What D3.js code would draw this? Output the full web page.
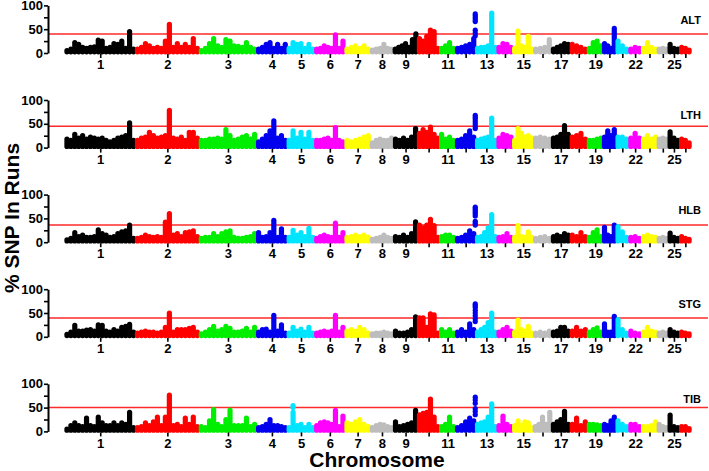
<!DOCTYPE html>
<meta charset="utf-8">
<style>
body { margin: 0; background: #fff; }
text { font-family: "Liberation Sans", Arial, sans-serif; font-weight: bold; }
</style>
<svg width="709" height="471"></svg>
<script src="https://d3js.org/d3.v7.min.js"></script>
<script>

// chromosome sizes (Mb) and the labels printed under the ticks
var chrLengths = [275, 249, 224, 119, 108, 117, 100, 90, 94, 86, 62, 79, 83, 62, 80, 71, 72, 68, 60, 51, 50, 50, 62, 42, 45, 44];
var tickLabels = ["1","2","3","4","5","6","7","8","9","","11","","13","","15","","17","","19","","","22","","","25",""];
var chrColours = ["#000000", "#ff0000", "#00ee00", "#0000ee", "#00e5ff", "#ff00ff", "#ffff00", "#bdbdbd"];

var traits = ["ALT", "LTH", "HLB", "STG", "TIB"];
var thresholds = [40, 45, 36, 39.7, 50];

// % SNP in runs along each chromosome (one list per chromosome)
var altValues = [
  [5, 8, 22, 18, 12, 10, 12, 13, 27, 25, 10, 12, 20, 18, 25, 10, 45, 8],
  [8, 12, 20, 15, 10, 12, 10, 25, 60, 12, 20, 12, 18, 12, 30, 10],
  [5, 10, 20, 30, 15, 12, 28, 25, 15, 14, 12, 22, 12, 8],
  [8, 12, 18, 22, 10, 18, 10, 18],
  [10, 22, 18, 20, 10, 18, 8],
  [8, 10, 15, 12, 10, 38, 10, 25],
  [8, 12, 15, 10, 15, 8],
  [6, 8, 10, 18, 10, 8],
  [8, 12, 15, 20, 12, 28, 40],
  [30, 25, 35, 48, 45, 10],
  [10, 15, 22, 10],
  [10, 12, 15, 18, 30],
  [10, 12, 12, 15, 84, 12],
  [12, 20, 18, 12],
  [10, 46, 15, 12, 35, 8],
  [8, 10, 12, 28],
  [8, 12, 15, 20, 18],
  [18, 15, 12, 8],
  [10, 22, 25, 15],
  [20, 15, 10, 52],
  [25, 15, 8],
  [8, 12, 10],
  [10, 22, 12, 8],
  [8, 10, 8],
  [18, 10, 8],
  [12, 10, 6]
];
var lthValues = [
  [18, 15, 28, 20, 25, 18, 22, 20, 18, 20, 15, 12, 15, 20, 22, 25, 52, 15],
  [15, 20, 22, 32, 25, 20, 22, 25, 78, 20, 18, 22, 15, 32, 32, 20],
  [15, 15, 18, 18, 20, 18, 38, 25, 15, 18, 22, 25, 18, 28],
  [12, 18, 25, 35, 56, 20, 25, 15],
  [15, 35, 20, 32, 18, 32, 15],
  [15, 15, 18, 20, 15, 42, 15, 12],
  [15, 12, 15, 18, 22, 25],
  [10, 15, 18, 15, 15, 20],
  [18, 15, 20, 15, 22, 40],
  [30, 38, 32, 43, 28, 20],
  [28, 18, 22, 15],
  [15, 18, 25, 35, 22],
  [15, 18, 20, 22, 62, 15],
  [20, 28, 25, 22],
  [15, 40, 30, 22, 25, 20],
  [20, 22, 20, 18],
  [20, 22, 28, 46, 28],
  [22, 25, 30, 18],
  [15, 15, 18, 20],
  [22, 35, 25, 38],
  [22, 22, 18],
  [20, 30, 20],
  [18, 25, 18, 22],
  [18, 20, 18],
  [33, 20, 15],
  [18, 15, 10]
];
var hlbValues = [
  [5, 8, 20, 12, 15, 10, 10, 12, 26, 18, 15, 10, 12, 18, 22, 24, 36, 8],
  [8, 10, 15, 12, 10, 12, 10, 42, 60, 15, 18, 12, 20, 22, 24, 12],
  [8, 10, 10, 18, 12, 18, 22, 24, 10, 8, 8, 10, 12, 18],
  [20, 10, 12, 20, 46, 10, 28, 10],
  [10, 25, 15, 20, 12, 29, 10],
  [8, 12, 15, 12, 10, 40, 10, 20],
  [10, 12, 15, 12, 15, 10],
  [6, 8, 10, 15, 10, 8],
  [12, 10, 15, 10, 18, 43],
  [36, 30, 36, 48, 35, 10],
  [12, 15, 15, 10],
  [8, 10, 15, 24, 18],
  [10, 12, 20, 30, 58, 12],
  [10, 12, 18, 10],
  [10, 35, 12, 10, 22, 10],
  [8, 10, 12, 8],
  [12, 15, 12, 18, 15],
  [15, 12, 20, 12],
  [10, 20, 26, 12],
  [31, 15, 12, 36],
  [33, 22, 10],
  [10, 12, 8],
  [12, 15, 12, 10],
  [8, 10, 8],
  [19, 10, 8],
  [12, 8, 6]
];
var stgValues = [
  [5, 10, 24, 12, 12, 14, 15, 12, 25, 24, 12, 10, 15, 12, 20, 22, 26, 10],
  [8, 10, 12, 10, 10, 8, 10, 20, 50, 10, 15, 15, 15, 18, 20, 10],
  [6, 10, 15, 22, 12, 15, 22, 18, 10, 10, 12, 18, 10, 20],
  [10, 15, 16, 10, 45, 12, 25, 8],
  [8, 20, 12, 16, 10, 20, 8],
  [8, 10, 12, 10, 12, 45, 10, 20],
  [12, 15, 12, 20, 15, 8],
  [6, 8, 8, 10, 8, 6],
  [12, 8, 8, 10, 15, 42],
  [40, 40, 20, 48, 46, 8],
  [15, 10, 15, 8],
  [10, 15, 10, 27, 15],
  [10, 15, 20, 30, 50, 10],
  [10, 15, 20, 12],
  [10, 35, 15, 12, 22, 8],
  [8, 10, 8, 12],
  [10, 12, 20, 20, 12],
  [12, 20, 12, 15],
  [10, 15, 19, 10],
  [27, 10, 10, 43],
  [36, 15, 8],
  [12, 8, 6],
  [10, 20, 12, 10],
  [8, 10, 8],
  [15, 10, 8],
  [10, 8, 6]
];
var tibValues = [
  [5, 12, 18, 12, 10, 28, 12, 10, 30, 18, 12, 12, 18, 12, 18, 15, 40, 8],
  [8, 10, 18, 12, 20, 30, 12, 30, 76, 12, 15, 10, 28, 15, 30, 10],
  [10, 8, 22, 46, 15, 10, 25, 45, 12, 12, 12, 28, 10, 15],
  [8, 10, 15, 25, 12, 12, 10, 8],
  [8, 40, 12, 15, 8, 15, 8],
  [12, 18, 20, 18, 15, 44, 10, 32],
  [18, 15, 20, 25, 15, 10],
  [8, 12, 15, 14, 10, 8],
  [20, 10, 12, 15, 18, 44],
  [35, 38, 40, 68, 30, 10],
  [10, 15, 30, 10],
  [8, 12, 20, 28, 22],
  [15, 18, 20, 30, 58, 10],
  [12, 32, 15, 10],
  [12, 22, 12, 20, 18, 8],
  [10, 15, 30, 15, 40],
  [15, 20, 25, 42, 15],
  [15, 28, 12, 20],
  [15, 15, 14, 12],
  [15, 12, 22, 30],
  [22, 15, 10],
  [15, 15, 10],
  [10, 10, 12, 20],
  [15, 10, 8],
  [34, 10, 8],
  [10, 10, 6]
];

// isolated SNPs standing above a run peak: chromosome, position (Mb), % values
var altSpots = [{chr: 12, pos: 77, values: [36, 42, 48, 66, 70, 74, 78, 82]}];
var lthSpots = [{chr: 12, pos: 77, values: [40, 45, 50, 55, 60, 64, 68]}];
var hlbSpots = [{chr: 12, pos: 77, values: [36, 40, 44, 55, 59, 63, 67, 71, 74]}];
var stgSpots = [{chr: 12, pos: 77, values: [32, 38, 44, 50, 56, 62, 66, 69]}];
var tibSpots = [{chr: 12, pos: 77, values: [35, 42, 48, 59, 66, 72]}, {chr: 5, pos: 23, values: [50, 54]}];

var panelValues = [altValues, lthValues, hlbValues, stgValues, tibValues];
var panelSpots = [altSpots, lthSpots, hlbSpots, stgSpots, tibSpots];

var svg = d3.select("svg");

// cumulative chromosome starts
var starts = [];
var total = 0;
chrLengths.forEach(function(l) { starts.push(total); total += l; });

var x = d3.scaleLinear().domain([0, total]).range([65, 691]);

var panel_top = 5.4;
var panel_h = 47.6;
var panel_step = 94.6;
var axis_x = 48;

traits.forEach(function(trait, p) {
  var top = panel_top + p * panel_step;
  var y = d3.scaleLinear().domain([0, 100]).range([top + panel_h, top]);
  var g = svg.append("g");

  // threshold line
  g.append("line")
    .attr("x1", axis_x).attr("x2", 708)
    .attr("y1", y(thresholds[p])).attr("y2", y(thresholds[p]))
    .style("stroke", "#ff2a2a")
    .style("stroke-width", 1.5);

  // runs, one stem per value
  panelValues[p].forEach(function(vals, c) {
    var col = chrColours[c % 8];
    var n = vals.length;
    g.selectAll(null)
      .data(vals)
      .enter().append("line")
      .attr("x1", function(d, i) { return x(starts[c] + (i + 0.5) / n * chrLengths[c]); })
      .attr("x2", function(d, i) { return x(starts[c] + (i + 0.5) / n * chrLengths[c]); })
      .attr("y1", y(2.5))
      .attr("y2", function(d) { return y(d); })
      .style("stroke", col)
      .style("stroke-width", 5.2)
      .style("stroke-linecap", "round");
  });

  // isolated points
  panelSpots[p].forEach(function(s) {
    g.selectAll(null)
      .data(s.values)
      .enter().append("circle")
      .attr("cx", x(starts[s.chr - 1] + s.pos))
      .attr("cy", function(d) { return y(d); })
      .attr("r", 2.6)
      .style("fill", chrColours[(s.chr - 1) % 8]);
  });

  // y axis
  var yAxis = d3.axisLeft(y)
    .tickValues([0, 25, 50, 75, 100])
    .tickFormat(function(d) { return d % 50 === 0 ? d : ""; })
    .tickSize(4)
    .tickSizeOuter(0)
    .tickPadding(1);
  var ya = g.append("g")
    .attr("transform", "translate(" + axis_x + ",0)")
    .call(yAxis);
  ya.select(".domain").style("stroke-width", 2);
  ya.selectAll(".tick line").style("stroke-width", 1.6);
  ya.selectAll(".tick text")
    .style("font-size", "13px")
    .style("font-weight", "bold")
    .style("font-family", "'Liberation Sans', Arial, sans-serif")
    .style("fill", "#000");

  // x axis: tick per chromosome centre
  var centres = chrLengths.map(function(l, i) { return starts[i] + l / 2; });
  var xAxis = d3.axisBottom(x)
    .tickValues(centres)
    .tickFormat(function(d, i) { return tickLabels[i]; })
    .tickSize(4)
    .tickPadding(2);
  var xa = g.append("g")
    .attr("transform", "translate(0," + (y(0) + 1) + ")")
    .call(xAxis);
  xa.select(".domain").remove();
  xa.selectAll(".tick line").style("stroke-width", 1.6);
  xa.selectAll(".tick text")
    .style("font-size", "13px")
    .style("font-weight", "bold")
    .style("font-family", "'Liberation Sans', Arial, sans-serif")
    .style("fill", "#000");

  // trait label
  g.append("text")
    .attr("x", 701)
    .attr("y", top + 19)
    .attr("text-anchor", "end")
    .style("font-size", "11px")
    .text(trait);
});

// axis titles
svg.append("text")
  .attr("transform", "translate(19,218) rotate(-90)")
  .attr("text-anchor", "middle")
  .style("font-size", "21px")
  .text("% SNP In Runs");

svg.append("text")
  .attr("x", 377)
  .attr("y", 467)
  .attr("text-anchor", "middle")
  .style("font-size", "21px")
  .text("Chromosome");

</script>
